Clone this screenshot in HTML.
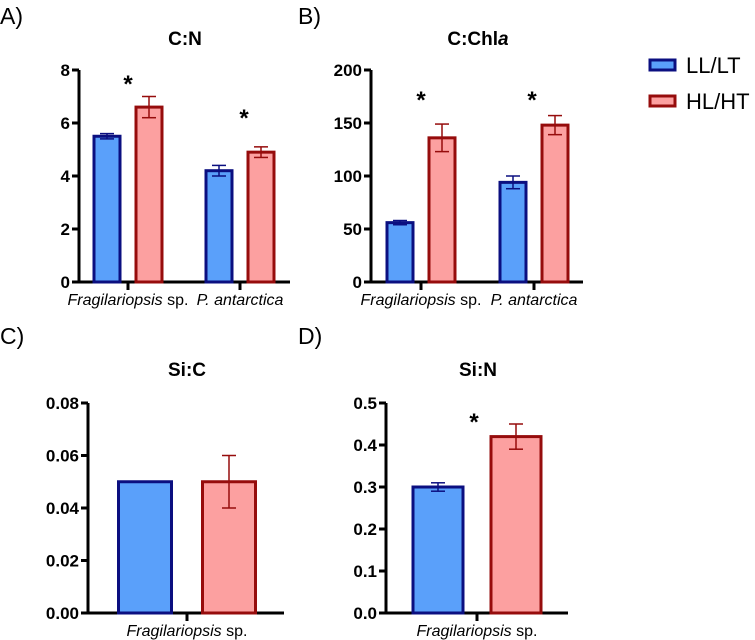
<!DOCTYPE html>
<html><head><meta charset="utf-8"><style>
body{margin:0;background:#fff;}
svg{display:block;font-family:"Liberation Sans",Arial,sans-serif;}
</style></head><body>
<svg id="c" width="755" height="640"></svg>
<script>
const aCats=["Fragilariopsis","P. antarctica"];
const aLow=[5.5,4.2], aLowErr=[0.1,0.2], aHigh=[6.6,4.9], aHighErr=[0.4,0.2];
const aTicks=[0,2,4,6,8];
const bLow=[56,94], bLowErr=[2,6], bHigh=[136,148], bHighErr=[13,9];
const bTicks=[0,50,100,150,200];
const cLow=[0.05], cLowErr=[0], cHigh=[0.05], cHighErr=[0.01];
const cTicks=["0.00","0.02","0.04","0.06","0.08"];
const dLow=[0.30], dLowErr=[0.01], dHigh=[0.42], dHighErr=[0.03];
const dTicks=["0.0","0.1","0.2","0.3","0.4","0.5"];
const NS="http://www.w3.org/2000/svg";
const svg=document.getElementById('c');
function el(t,a,txt,p){const e=document.createElementNS(NS,t);for(const k in a)e.setAttribute(k,a[k]);if(txt!==undefined)e.textContent=txt;(p||svg).appendChild(e);return e;}
function panel(o){
  const g=el('g',{});
  
  
  const max=parseFloat(o.ticks[o.ticks.length-1]);
  const y=v=>o.y0-(v/max)*(o.y0-o.y1);
  const ax=el('line',{x1:o.ax,y1:o.y1,x2:o.ax,y2:o.y0+1.5,stroke:'#000','stroke-width':3},undefined,g);
  
  const xa=el('line',{x1:o.ax-1.5,y1:o.y0,x2:o.xend,y2:o.y0,stroke:'#000','stroke-width':3},undefined,g);
  
  o.ticks.forEach(t=>{const yy=y(parseFloat(t));
    el('line',{x1:o.ax-7,y1:yy,x2:o.ax,y2:yy,stroke:'#000','stroke-width':3},undefined,g);
    const tl=el('text',{x:o.ax-9,y:yy+6,'text-anchor':'end','font-size':17,'font-weight':'bold'},String(t),g);
    
  });
  const tt=el('text',{x:o.tx,y:o.ty,'text-anchor':'middle','font-size':19,'font-weight':'bold'},o.title,g);
  if(o.titleI){el('tspan',{'font-style':'italic'},o.titleI,tt);}
  
  const pl=el('text',{x:o.lx,y:o.ly,'font-size':23},o.letter,g);
  
  o.groups.forEach((gx,i)=>{
    [[o.low,o.lowErr,'#5aa0fa','#0b0f80',-1],[o.high,o.highErr,'#fca0a0','#960c0c',1]].forEach(s=>{
      const v=s[0][i],e=s[1][i];
      const cx=gx+s[4]*o.off, x0=cx-o.bw/2;
      const r=el('rect',{x:x0,y:y(v),width:o.bw,height:o.y0-y(v),fill:s[2],stroke:s[3],'stroke-width':3},undefined,g);
      
      if(e>0){
        el('line',{x1:cx,y1:y(v+e),x2:cx,y2:y(v-e),stroke:s[3],'stroke-width':1.5},undefined,g);
        el('line',{x1:cx-7,y1:y(v+e),x2:cx+7,y2:y(v+e),stroke:s[3],'stroke-width':1.5},undefined,g);
        el('line',{x1:cx-7,y1:y(v-e),x2:cx+7,y2:y(v-e),stroke:s[3],'stroke-width':1.5},undefined,g);
      }
    });
    el('line',{x1:gx,y1:o.y0,x2:gx,y2:o.y0+8,stroke:'#000','stroke-width':3},undefined,g);
    const lab=el('text',{x:gx,y:o.y0+23,'text-anchor':'middle','font-size':16},undefined,g);
    
    if(o.cats[i]==="Fragilariopsis"){el('tspan',{'font-style':'italic'},'Fragilariopsis',lab);el('tspan',{},' sp.',lab);}
    else el('tspan',{'font-style':'italic'},o.cats[i],lab);
    if(o.stars[i]){const st=el('text',{x:o.stars[i][0],y:o.stars[i][1],'text-anchor':'middle','font-size':24,'font-weight':'bold'},'*',g);
      }
  });
}
panel({name:'panel-a-cn',letter:'A)',lx:0,ly:24,title:'C:N',tx:185,ty:45,ax:79,y0:282,y1:70,xend:290,ticks:aTicks,
  groups:[128,240],off:21,bw:26,cats:aCats,low:aLow,lowErr:aLowErr,high:aHigh,highErr:aHighErr,stars:[[128,92],[244,126]]});
panel({name:'panel-b-cchla',letter:'B)',lx:298,ly:24,title:'C:Chl',titleI:'a',tx:478,ty:45,ax:371,y0:282,y1:70,xend:583,ticks:bTicks,
  groups:[421,534],off:21,bw:26,cats:aCats,low:bLow,lowErr:bLowErr,high:bHigh,highErr:bHighErr,stars:[[421,108],[532,108]]});
panel({name:'panel-c-sic',letter:'C)',lx:0,ly:344,title:'Si:C',tx:187,ty:376,ax:88,y0:613,y1:403,xend:284,ticks:cTicks,
  groups:[187],off:42,bw:53,cats:["Fragilariopsis"],low:cLow,lowErr:cLowErr,high:cHigh,highErr:cHighErr,stars:[null]});
panel({name:'panel-d-sin',letter:'D)',lx:298,ly:344,title:'Si:N',tx:478,ty:376,ax:386,y0:613,y1:403,xend:568,ticks:dTicks,
  groups:[477],off:39,bw:50,cats:["Fragilariopsis"],low:dLow,lowErr:dLowErr,high:dHigh,highErr:dHighErr,stars:[[474,430]]});
// legend
const lg=el('g',{});


[['LL/LT','#5aa0fa','#0b0f80',65],['HL/HT','#fca0a0','#960c0c',101]].forEach(l=>{
  el('rect',{x:650,y:l[3]-5,width:25,height:10,fill:l[1],stroke:l[2],'stroke-width':3},undefined,lg);
  const t=el('text',{x:686,y:l[3]+8,'font-size':22},l[0],lg);
  
});
</script>
</body></html>
